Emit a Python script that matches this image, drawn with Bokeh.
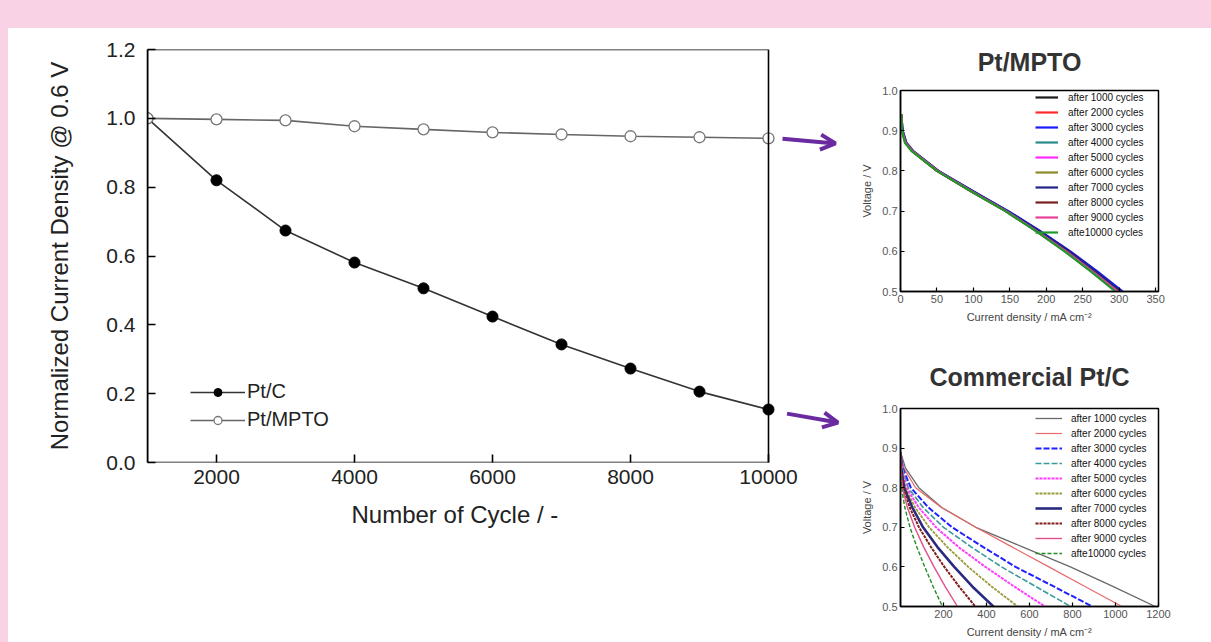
from bokeh.plotting import figure
from bokeh.models import (Range1d, FixedTicker, PrintfTickFormatter, Arrow, OpenHead, Div,
                          BoxAnnotation, Title)
from bokeh.layouts import row, column
from bokeh.embed import file_html
from bokeh.resources import INLINE

# ---------------- main chart data ----------------
cycles = [1000, 2000, 3000, 4000, 5000, 6000, 7000, 8000, 9000, 10000]
pt_c = [1.0, 0.82, 0.674, 0.581, 0.506, 0.424, 0.343, 0.273, 0.206, 0.154]
pt_mpto = [1.0, 0.997, 0.994, 0.977, 0.968, 0.959, 0.953, 0.948, 0.945, 0.942]
main_x_ticks = [2000, 4000, 6000, 8000, 10000]
main_y_ticks = [0.0, 0.2, 0.4, 0.6, 0.8, 1.0, 1.2]

# ---------------- inset data ----------------
legend_labels = ["after 1000 cycles", "after 2000 cycles", "after 3000 cycles",
                 "after 4000 cycles", "after 5000 cycles", "after 6000 cycles",
                 "after 7000 cycles", "after 8000 cycles", "after 9000 cycles",
                 "afte10000 cycles"]

# Pt/MPTO inset: current density at given voltages
mpto_v = [0.94, 0.90, 0.87, 0.85, 0.80, 0.75, 0.70, 0.65, 0.60, 0.55, 0.50]
mpto_c1000 = [1, 2, 7, 16, 51, 98, 146, 189, 229, 265, 300]
mpto_c2000 = [1, 2, 7, 16, 50, 97, 145, 188, 229, 266, 302]
mpto_c3000 = [1, 3, 8, 17, 52, 99, 148, 192, 233, 270, 305]
mpto_c4000 = [1, 2, 7, 16, 51, 98, 146, 189, 230, 266, 301]
mpto_c5000 = [1, 2, 7, 16, 51, 97, 145, 187, 227, 263, 298]
mpto_c6000 = [1, 2, 7, 15, 50, 97, 145, 188, 228, 264, 299]
mpto_c7000 = [1, 3, 8, 17, 52, 99, 147, 191, 232, 268, 303]
mpto_c8000 = [1, 2, 7, 16, 50, 96, 144, 186, 226, 262, 296]
mpto_c9000 = [1, 2, 7, 16, 51, 97, 145, 187, 227, 263, 298]
mpto_c10000 = [1, 2, 6, 15, 50, 96, 144, 186, 225, 261, 295]

# Commercial Pt/C inset
ptc_v = [0.89, 0.85, 0.80, 0.75, 0.70, 0.65, 0.60, 0.55, 0.50]
ptc_c1000 = [0, 23, 85, 192, 350, 570, 790, 990, 1185]
ptc_c2000 = [0, 15, 70, 190, 350, 520, 690, 860, 1030]
ptc_c3000 = [0, 10, 48, 130, 240, 385, 535, 715, 892]
ptc_c4000 = [0, 8, 36, 105, 200, 330, 470, 630, 792]
ptc_c5000 = [0, 6, 28, 85, 165, 270, 395, 530, 672]
ptc_c6000 = [0, 4, 22, 68, 133, 218, 315, 425, 545]
ptc_c7000 = [0, 3, 17, 55, 105, 172, 250, 335, 432]
ptc_c8000 = [0, 2, 13, 43, 86, 142, 204, 273, 348]
ptc_c9000 = [0, 1, 9, 32, 66, 108, 156, 208, 265]
ptc_c10000 = [0, 0, 5, 20, 44, 76, 113, 152, 195]

mpto_x_ticks = [0, 50, 100, 150, 200, 250, 300, 350]
ptc_x_ticks = [200, 400, 600, 800, 1000, 1200]
inset_y_ticks = [0.5, 0.6, 0.7, 0.8, 0.9, 1.0]

mpto_colors = ["#1a1a1a", "#ff2a2a", "#1a1aff", "#2a8c8c", "#ff2aff",
               "#8c8c2a", "#22228a", "#7a1f1f", "#e8409a", "#1f9a2a"]
ptc_colors = ["#6a6a6a", "#e86a6a", "#2020ff", "#3a9a9a", "#ff3cff",
              "#9a9a3a", "#2a2a80", "#801c1c", "#e0508a", "#208c20"]
ptc_dash = ["solid", "solid", "6 2", "6 2", "3 1", "3 1", "solid", "3 1", "solid", "4 2"]
ptc_width = [1.3, 1.2, 2.0, 1.6, 2.0, 1.8, 2.6, 2.0, 1.4, 1.4]

PINK = "#f9d2e5"
PURPLE = "#6a2aa0"
FONT = "Liberation Sans"

# ---------------- main figure ----------------
# the x scale continues past 10000 so the arrows can be drawn in data space
p = figure(width=835, height=614, x_range=Range1d(1000, 11087), y_range=Range1d(0, 1.2),
           output_backend="svg", toolbar_location=None,
           min_border_left=139, min_border_right=0, min_border_top=21, min_border_bottom=180)
p.grid.visible = False
p.outline_line_color = None
p.add_layout(BoxAnnotation(left=1000, right=10000, bottom=0, top=1.2,
                           fill_alpha=0, line_color="black", line_alpha=1.0, line_width=1.6))

for ax in (p.xaxis[0], p.yaxis[0]):
    ax.axis_line_width = 1.6
    ax.major_tick_line_width = 1.6
    ax.major_tick_in = 8
    ax.major_tick_out = 0
    ax.minor_tick_line_color = None
    ax.major_label_text_font = FONT
    ax.major_label_text_color = "#222222"
    ax.axis_label_text_font = FONT
    ax.axis_label_text_color = "#222222"
    ax.axis_label_text_font_style = "normal"
p.xaxis.axis_line_color = None

p.xaxis.ticker = FixedTicker(ticks=main_x_ticks)
p.yaxis.ticker = FixedTicker(ticks=main_y_ticks)
p.yaxis.formatter = PrintfTickFormatter(format="%.1f")
p.xaxis.major_label_text_font_size = "21px"
p.yaxis.major_label_text_font_size = "21px"
p.xaxis.major_label_standoff = 7
p.yaxis.major_label_standoff = 12
p.yaxis.axis_label = "Normalized Current Density @ 0.6 V"
p.yaxis.axis_label_text_font_size = "24px"
p.yaxis.axis_label_standoff = 30

# x-axis title, centred under the 1000-10000 part of the scale
p.add_layout(Title(text="Number of Cycle / -", align="left", offset=204,
                   text_font=FONT, text_font_size="24px", text_font_style="normal",
                   text_color="#222222", standoff=24), "below")

p.line(cycles, pt_c, line_color="#333333", line_width=1.6, legend_label="Pt/C")
p.scatter(cycles, pt_c, marker="circle", size=11, fill_color="black", line_color="black",
          legend_label="Pt/C")
p.line(cycles, pt_mpto, line_color="#666666", line_width=1.6, legend_label="Pt/MPTO")
p.scatter(cycles, pt_mpto, marker="circle", size=11, fill_color="white", line_color="#777777",
          line_width=1.3, legend_label="Pt/MPTO")

lg = p.legend[0]
lg.location = (43, 31)
lg.glyph_width = 55
lg.glyph_height = 20
lg.label_height = 20
lg.label_standoff = 2
lg.spacing = 5
lg.padding = 0
lg.margin = 0
lg.border_line_color = None
lg.background_fill_alpha = 0
lg.label_text_font = FONT
lg.label_text_font_size = "20px"
lg.label_text_color = "#222222"

# arrows pointing to the insets
p.add_layout(Arrow(end=OpenHead(line_color=PURPLE, line_width=4, size=15),
                   x_start=10203, y_start=0.941, x_end=10971, y_end=0.927,
                   line_color=PURPLE, line_width=4))
p.add_layout(Arrow(end=OpenHead(line_color=PURPLE, line_width=4, size=15),
                   x_start=10268, y_start=0.142, x_end=11007, y_end=0.116,
                   line_color=PURPLE, line_width=4))


def make_inset(title, x_max, x_ticks, height, borders, title_standoff):
    f = figure(width=368, height=height, x_range=Range1d(0, x_max), y_range=Range1d(0.5, 1.0),
               output_backend="svg", toolbar_location=None, title=title,
               min_border_left=borders[0], min_border_right=borders[1],
               min_border_top=borders[2], min_border_bottom=borders[3])
    f.grid.visible = False
    f.outline_line_color = "black"
    f.outline_line_width = 1.5
    f.title.align = "center"
    f.title.text_font = FONT
    f.title.text_font_size = "25px"
    f.title.text_font_style = "bold"
    f.title.text_color = "#333333"
    f.title.standoff = title_standoff
    for ax in (f.xaxis[0], f.yaxis[0]):
        ax.axis_line_width = 1.5
        ax.major_tick_line_width = 1.2
        ax.major_tick_in = 4
        ax.major_tick_out = 0
        ax.minor_tick_line_color = None
        ax.major_label_text_font = FONT
        ax.major_label_text_font_size = "11px"
        ax.major_label_text_color = "#555555"
        ax.major_label_standoff = 3
        ax.axis_label_text_font = FONT
        ax.axis_label_text_font_size = "11px"
        ax.axis_label_text_font_style = "normal"
        ax.axis_label_text_color = "#444444"
    f.xaxis.ticker = FixedTicker(ticks=x_ticks)
    f.yaxis.ticker = FixedTicker(ticks=inset_y_ticks)
    f.yaxis.formatter = PrintfTickFormatter(format="%.1f")
    f.xaxis.axis_label = "Current density / mA cm\u207b\u00b2"
    f.yaxis.axis_label = "Voltage / V"
    f.xaxis.axis_label_standoff = 5
    f.yaxis.axis_label_standoff = 6
    return f


# ---------------- Pt/MPTO inset ----------------
q1 = make_inset("Pt/MPTO", 354, mpto_x_ticks, 312, (57, 48, 62, 49), 29)
mpto_curves = [mpto_c1000, mpto_c2000, mpto_c3000, mpto_c4000, mpto_c5000,
               mpto_c6000, mpto_c7000, mpto_c8000, mpto_c9000, mpto_c10000]
for cur, col, lab in zip(mpto_curves, mpto_colors, legend_labels):
    q1.line(cur, mpto_v, line_color=col, line_width=2.2, legend_label=lab)

# ---------------- Commercial Pt/C inset ----------------
q2 = make_inset("Commercial Pt/C", 1200, ptc_x_ticks, 302, (55, 53, 68, 36), 35)
ptc_curves = [ptc_c1000, ptc_c2000, ptc_c3000, ptc_c4000, ptc_c5000,
              ptc_c6000, ptc_c7000, ptc_c8000, ptc_c9000, ptc_c10000]
for cur, col, dash, w, lab in zip(ptc_curves, ptc_colors, ptc_dash, ptc_width, legend_labels):
    q2.line(cur, ptc_v, line_color=col, line_width=w, line_dash=dash, legend_label=lab)

for f, loc, gw, st in ((q1, (135, 53), 23, 10), (q2, (135, 47), 27, 9)):
    L = f.legend[0]
    L.location = loc
    L.glyph_width = gw
    L.glyph_height = 12
    L.label_height = 12
    L.spacing = 3
    L.padding = 0
    L.margin = 0
    L.label_standoff = st
    L.border_line_color = None
    L.background_fill_alpha = 0
    L.label_text_font = FONT
    L.label_text_font_size = "10px"
    L.label_text_color = "#111111"

# ---------------- page layout ----------------
top_strip = Div(text="", width=1211, height=28, margin=0,
                styles={"background-color": PINK})
left_strip = Div(text="", width=8, height=614, margin=0,
                 styles={"background-color": PINK})
insets = column(q1, q2, spacing=0)
body = row(left_strip, p, insets, spacing=0)
root = column(top_strip, body, spacing=0)

open("out.html", "w").write(file_html(root, INLINE))
